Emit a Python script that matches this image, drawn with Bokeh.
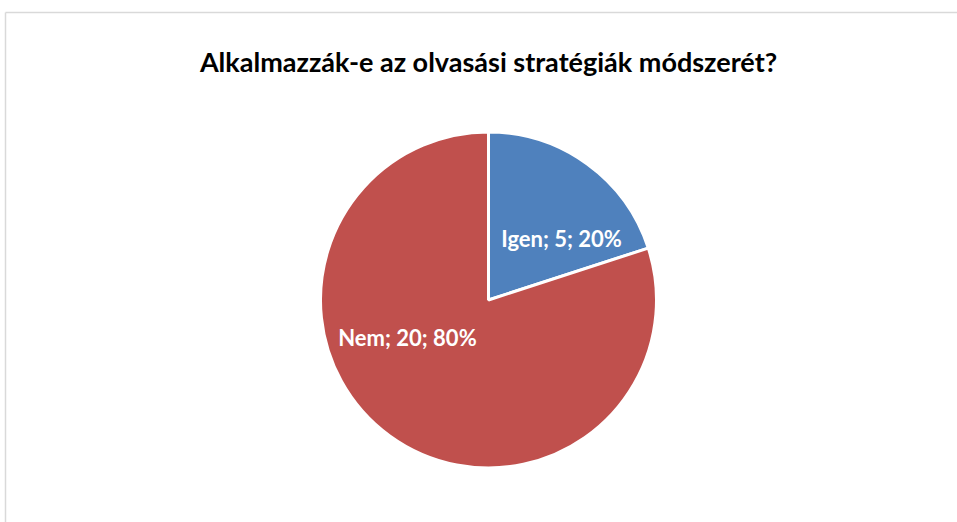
import math
from bokeh.plotting import figure
from bokeh.models import Range1d, ColumnDataSource
from bokeh.core.properties import value
from bokeh.embed import file_html
from bokeh.resources import INLINE

title_text = "Alkalmazzák-e az olvasási stratégiák módszerét?"
categories = ["Igen", "Nem"]
counts = [5, 20]
colors = ["#4F81BD", "#C0504D"]

W, H = 957, 522
p = figure(width=W, height=H, output_backend="svg", toolbar_location=None,
           x_range=Range1d(0, W), y_range=Range1d(0, H),
           min_border=0, outline_line_color=None, background_fill_color="white",
           border_fill_color="white")
p.axis.visible = False
p.grid.visible = False

# chart border (top + left visible)
p.segment(x0=[5, 5], y0=[H - 12, H - 12], x1=[W, 5], y1=[H - 12, 0],
          line_color="#D9D9D9", line_width=1.5)

# title
p.text(x=[488], y=[H - 61], text=[title_text], text_align="center",
       text_baseline="alphabetic", text_font=value("Lato"), text_font_style="bold",
       text_font_size="27px", text_color="black")

cx, cy, r = 488, H - 299.5, 168
total = sum(counts)
fracs = [c / total for c in counts]
starts, ends = [], []
a = math.pi / 2
for f in fracs:
    starts.append(a)
    a -= 2 * math.pi * f
    ends.append(a)

src = ColumnDataSource(dict(start=starts, end=ends, color=colors))
p.wedge(x=cx, y=cy, radius=r, start_angle="start", end_angle="end",
        direction="clock", fill_color="color", line_color="white",
        line_width=3, source=src)

# label placement (Excel-like positions relative to the center, baseline)
label_angle_deg = [40.1, 204.8]
label_radius = [95.5, 89.3]
lx = [cx + rr * math.cos(math.radians(ag)) for ag, rr in zip(label_angle_deg, label_radius)]
ly = [cy + rr * math.sin(math.radians(ag)) for ag, rr in zip(label_angle_deg, label_radius)]
labels = [f"{c}; {n}; {round(100 * f)}%" for c, n, f in zip(categories, counts, fracs)]
p.text(x=lx, y=ly, text=labels, text_align="center", text_baseline="alphabetic",
       text_font=value("Lato"), text_font_style="bold", text_font_size="22px",
       text_color="white")

open("out.html", "w").write(file_html(p, INLINE))
